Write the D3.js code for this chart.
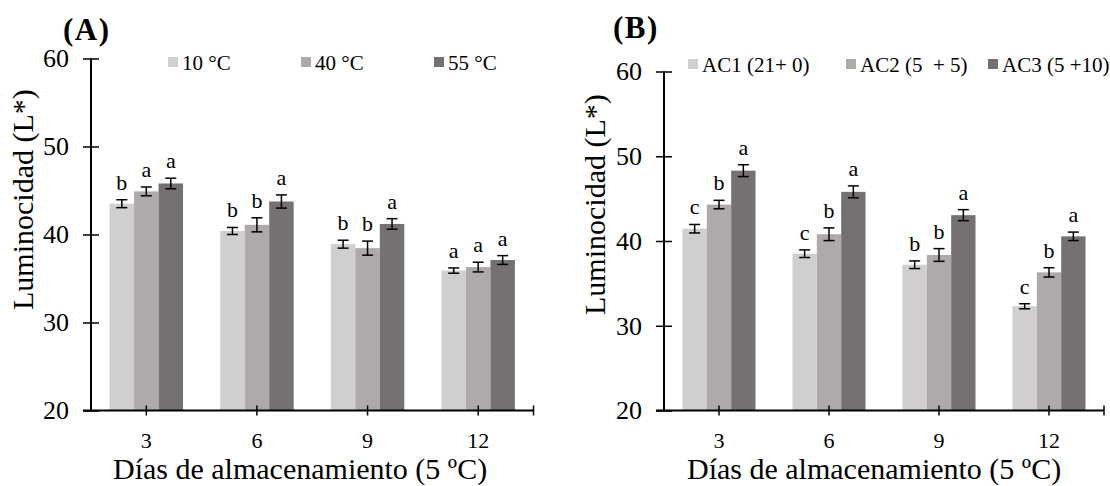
<!DOCTYPE html>
<html>
<head>
<meta charset="utf-8">
<script src="https://cdn.jsdelivr.net/npm/d3@7"></script>
<style>
  html, body { margin: 0; padding: 0; background: #ffffff; }
  svg { display: block; font-family: "Liberation Serif", "Times New Roman", serif; }
</style>
</head>
<body>
<svg id="chart" width="1110" height="486"></svg>
<script>
// ---------- DATA ----------
const days = ["3", "6", "9", "12"];
const yTicks = [20, 30, 40, 50, 60];

// Panel A
const seriesA = ["10 °C", "40 °C", "55 °C"];
const meanA10 = [43.5, 40.4, 38.9, 35.9];
const meanA40 = [44.9, 41.1, 38.45, 36.3];
const meanA55 = [45.8, 43.75, 41.2, 37.1];
const errA10 = [0.45, 0.4, 0.45, 0.3];
const errA40 = [0.5, 0.8, 0.8, 0.55];
const errA55 = [0.6, 0.75, 0.6, 0.5];
const letA10 = ["b", "b", "b", "a"];
const letA40 = ["a", "b", "b", "a"];
const letA55 = ["a", "a", "a", "a"];

// Panel B
const seriesB = ["AC1 (21+ 0)", "AC2 (5  + 5)", "AC3 (5 +10)"];
const meanB1 = [41.45, 38.5, 37.2, 32.3];
const meanB2 = [44.3, 40.8, 38.35, 36.3];
const meanB3 = [48.3, 45.8, 43.05, 40.55];
const errB1 = [0.5, 0.45, 0.45, 0.3];
const errB2 = [0.5, 0.75, 0.75, 0.55];
const errB3 = [0.7, 0.7, 0.65, 0.5];
const letB1 = ["c", "c", "b", "c"];
const letB2 = ["b", "b", "b", "b"];
const letB3 = ["a", "a", "a", "a"];

const colors = ["#d0cece", "#aeaaaa", "#767171"];
const yTitle = "Luminocidad (L*)";
const xTitle = "Días de almacenamiento (5 ºC)";

// ---------- DRAW ----------
const svg = d3.select("#chart");
const FONT = "Liberation Serif, Times New Roman, serif";

function drawPanel(opt) {
  const g = svg.append("g");
  const x = d3.scaleBand().domain(days).range([opt.x0, opt.x1])
    .paddingInner(0.336).paddingOuter(0.168);
  const xs = d3.scaleBand().domain([0, 1, 2]).range([0, x.bandwidth()]);
  const y = d3.scaleLinear().domain([20, 60]).range([opt.yBottom, opt.yTop]);

  const rows = [];
  opt.means.forEach((arr, si) => {
    arr.forEach((v, di) => {
      rows.push({ s: si, d: days[di], v: v, e: opt.errs[si][di], l: opt.lets[si][di] });
    });
  });
  const cx = r => x(r.d) + xs(r.s) + xs.bandwidth() / 2;

  // bars
  g.selectAll("rect.bar").data(rows).enter().append("rect")
    .attr("class", "bar")
    .attr("x", r => x(r.d) + xs(r.s))
    .attr("y", r => y(r.v))
    .attr("width", xs.bandwidth())
    .attr("height", r => y(20) - y(r.v))
    .attr("fill", r => colors[r.s]);

  // error bars
  const cap = 5.5;
  const eg = g.selectAll("g.err").data(rows).enter().append("g")
    .attr("stroke", "#000").attr("stroke-width", 1.5);
  eg.append("line").attr("x1", cx).attr("x2", cx)
    .attr("y1", r => y(r.v - r.e)).attr("y2", r => y(r.v + r.e));
  eg.append("line").attr("x1", r => cx(r) - cap).attr("x2", r => cx(r) + cap)
    .attr("y1", r => y(r.v + r.e)).attr("y2", r => y(r.v + r.e));
  eg.append("line").attr("x1", r => cx(r) - cap).attr("x2", r => cx(r) + cap)
    .attr("y1", r => y(r.v - r.e)).attr("y2", r => y(r.v - r.e));

  // letters
  g.selectAll("text.let").data(rows).enter().append("text")
    .attr("class", "let")
    .attr("x", cx)
    .attr("y", r => y(r.v + r.e) - 10)
    .attr("text-anchor", "middle")
    .attr("font-size", 22)
    .text(r => r.l);

  // y axis
  const yAxis = d3.axisLeft(y).tickValues(yTicks).tickSize(0).tickPadding(0);
  const ya = g.append("g").attr("transform", `translate(${opt.x0},0)`).call(yAxis);
  ya.select(".domain").remove();
  ya.selectAll(".tick text").attr("x", -22).attr("font-size", 26)
    .attr("font-family", FONT).attr("fill", "#000");
  ya.selectAll(".tick").append("line").attr("x1", -8).attr("x2", 8)
    .attr("stroke", "#000").attr("stroke-width", 1.5);
  g.append("line").attr("x1", opt.x0).attr("x2", opt.x0)
    .attr("y1", y(60)).attr("y2", y(20)).attr("stroke", "#000").attr("stroke-width", 2);

  // x axis
  const xAxis = d3.axisBottom(x).tickSize(0).tickPadding(0);
  const xa = g.append("g").attr("transform", `translate(0,${y(20)})`).call(xAxis);
  xa.select(".domain").remove();
  xa.selectAll(".tick text").attr("y", 37).attr("dy", 0).attr("font-size", 22)
    .attr("font-family", FONT).attr("fill", "#000");
  xa.selectAll(".tick").append("line").attr("y1", -5).attr("y2", 5)
    .attr("stroke", "#000").attr("stroke-width", 1.5);
  xa.append("line").attr("x1", opt.x1).attr("x2", opt.x1).attr("y1", -5).attr("y2", 5)
    .attr("stroke", "#000").attr("stroke-width", 1.5);
  xa.append("line").attr("x1", opt.x0 - 8).attr("x2", opt.x1)
    .attr("y1", 0).attr("y2", 0).attr("stroke", "#000").attr("stroke-width", 2);

  // titles
  g.append("text").attr("x", opt.xTitleX).attr("y", 479).attr("font-size", 30)
    .text(xTitle);
  g.append("text")
    .attr("transform", `translate(${opt.yTitleX},${opt.yTitleY}) rotate(-90)`)
    .attr("font-size", 30).text(yTitle);
  g.append("text").attr("x", opt.labelX).attr("y", opt.labelY)
    .attr("font-size", 31).attr("font-weight", "bold").attr("letter-spacing", 1.5)
    .text(opt.label);

  // legend
  const lg = g.selectAll("g.leg").data(opt.series).enter().append("g")
    .attr("transform", (d, i) => `translate(${opt.legX[i]},${opt.legY})`);
  lg.append("rect").attr("x", 0).attr("y", -13).attr("width", 10).attr("height", 10)
    .attr("fill", (d, i) => colors[i]);
  lg.append("text").attr("x", 14).attr("y", 0).attr("font-size", 21)
    .attr("xml:space", "preserve").style("white-space", "pre").text(d => d);
}

drawPanel({
  x0: 91, x1: 533.5, yTop: 58.5, yBottom: 410.5,
  means: [meanA10, meanA40, meanA55], errs: [errA10, errA40, errA55],
  lets: [letA10, letA40, letA55], series: seriesA,
  legX: [168, 301, 434], legY: 70,
  xTitleX: 113, yTitleX: 33, yTitleY: 310,
  label: "(A)", labelX: 63, labelY: 40
});
drawPanel({
  x0: 664, x1: 1104, yTop: 71.5, yBottom: 410.5,
  means: [meanB1, meanB2, meanB3], errs: [errB1, errB2, errB3],
  lets: [letB1, letB2, letB3], series: seriesB,
  legX: [688, 846, 988], legY: 72,
  xTitleX: 687, yTitleX: 605, yTitleY: 315,
  label: "(B)", labelX: 613, labelY: 38
});
</script>
</body>
</html>
